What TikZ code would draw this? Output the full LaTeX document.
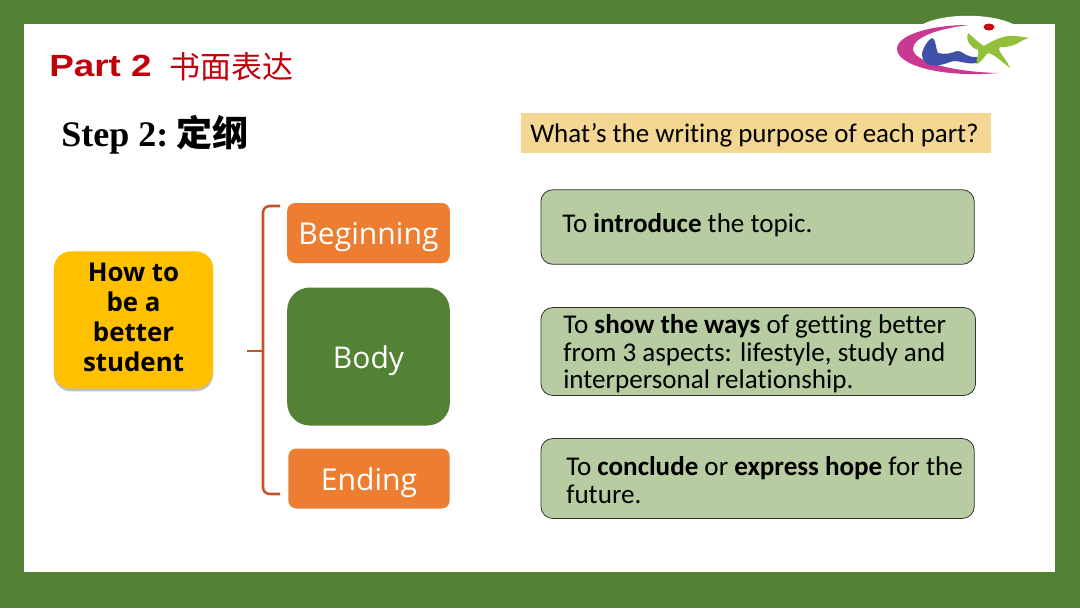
\documentclass[tikz,border=0pt]{standalone}
\usepackage{fontspec}
\setmainfont{Carlito}[RawFeature={-liga}]
\newfontfamily\heading{Liberation Sans}[FakeStretch=1.2]
\newfontfamily\stepfont{Liberation Serif}
\newfontfamily\labelfont{Open Sans}
\newfontfamily\cjk{Noto Sans CJK SC}
\usetikzlibrary{shadows}
\definecolor{frame}{HTML}{548235}
\definecolor{tan}{HTML}{F4D793}
\definecolor{sage}{HTML}{B7CCA1}
\definecolor{orange}{HTML}{ED7D31}
\definecolor{amber}{HTML}{FFC000}
\definecolor{brick}{HTML}{C0000B}
\definecolor{bracket}{HTML}{C5532B}
\definecolor{magenta}{HTML}{C83A92}
\definecolor{navy}{HTML}{3E50A8}
\definecolor{leaf}{HTML}{92C03A}
\newcommand{\partlabel}[1]{\raisebox{-3pt}[\height][\depth]{#1}}
\tikzset{
  partbox/.style={fill=orange,rounded corners=6pt,text=white,font=\labelfont\fontsize{22.6}{26}\selectfont,inner sep=0pt},
  notebox/.style={draw=black!80,fill=sage,rounded corners=9pt,line width=.6pt,anchor=west,inner sep=0pt,minimum width=#1},
  notetext/.style={anchor=west,align=left,font=\fontsize{20.3}{20.5}\selectfont,inner sep=0pt},
}
\begin{document}
\begin{tikzpicture}[x=.75pt,y=-.75pt]
  \useasboundingbox (0,0) rectangle (1080,608);
  \fill[frame] (0,0) rectangle (1080,608);
  \fill[white] (24,24) rectangle (1055,572);
  % logo
  \fill[white] (923,24) .. controls (945,13) and (990,13) .. (1013,24) -- cycle;
  \fill[magenta] (969,25) .. controls (930,25) and (897,35) .. (897,49) .. controls (897,66) and (945,78) .. (998,73) .. controls (955,72) and (913,62) .. (913,49) .. controls (913,38) and (935,29) .. (969,25) -- cycle;
  \fill[navy] (922,53) .. controls (924,46) and (928,40) .. (932,38) .. controls (936,39) and (935,46) .. (938,53) .. controls (945,55) and (952,53) .. (957,51) .. controls (962,50) and (966,58) .. (977,57) -- (977,63) .. controls (965,65) and (958,59) .. (950,62) .. controls (940,66) and (922,70) .. (922,53) -- cycle;
  \fill[leaf] (968,33) .. controls (974,38) and (980,44) .. (984,46) .. controls (993,40) and (1005,35) .. (1013,36) .. controls (1018,36) and (1024,37) .. (1029,38) .. controls (1020,40) and (1015,48) .. (1000,47) .. controls (996,50) and (1006,58) .. (1010,68) .. controls (1002,62) and (994,54) .. (988,53) .. controls (984,56) and (984,60) .. (977,64) .. controls (975,58) and (980,54) .. (978,50) .. controls (972,48) and (965,42) .. (968,33) -- cycle;
  \fill[brick!90!orange] (989,27) ellipse (5.5 and 3.5);
  % headings
  \node[anchor=west,inner sep=0pt,text=brick,font=\heading\bfseries\fontsize{23}{26}\selectfont] (part) at (49,66) {Part 2};
  \node[anchor=west,inner sep=0pt,text=brick,font=\cjk\fontsize{23.2}{26}\selectfont] (title) at (169,67) {书面表达};
  \node[anchor=west,inner sep=0pt,font=\stepfont\bfseries\fontsize{27}{28}\selectfont] (stepline) at (61,135) {Step 2:\hspace{6.5pt}{\cjk\bfseries 定纲}};
  \node[fill=tan,anchor=west,minimum width=352.5pt,minimum height=30pt,inner sep=0pt] (askbox) at (521,132.5) {};
  \node[anchor=west,inner sep=0pt,font=\fontsize{20.2}{22}\selectfont] (ask) at (530,135) {What’s the writing purpose of each part?};
  % left box
  \node[fill=amber,rounded corners=13pt,minimum width=119.5pt,minimum height=103pt,inner sep=0pt,
    drop shadow={shadow xshift=0pt,shadow yshift=-2pt,opacity=.5}] (topic) at (133.5,320) {};
  \node[inner sep=0pt,align=center,font=\labelfont\bfseries\fontsize{19.4}{22.5}\selectfont] (topictext) at (133.5,317.5) {How to\\be a\\better\\student};
  % bracket
  \coordinate (tip) at (247,351);
  \coordinate (top) at (280,206);
  \coordinate (bottom) at (280,494);
  \draw[bracket,line width=1.9pt,rounded corners=5pt] (top) -- (263,206) -- (263,494) -- (bottom);
  \draw[bracket,line width=1.9pt] (tip) -- (263,351);
  % parts
  \node[partbox,minimum width=122pt,minimum height=45pt] (beginning) at (368.5,233) {\partlabel{Beginning}};
  \node[partbox,fill=frame,rounded corners=17pt,minimum width=122pt,minimum height=103.5pt,font=\labelfont\fontsize{22.5}{24}\selectfont] (body) at (368.5,356.5) {\partlabel{Body}};
  \node[partbox,minimum width=121pt,minimum height=45pt] (ending) at (369,478.5) {\partlabel{Ending}};
  % notes
  \node[notebox=325pt,minimum height=56pt] (intro) at (540.5,227) {};
  \node[notetext] (introtext) at (562,225) {To \textbf{introduce} the topic.};
  \node[notebox=326pt,minimum height=66pt] (ways) at (540.5,351.5) {};
  \node[notetext] (waystext) at (563,354) {To \textbf{show the ways} of getting better\\from 3 aspects: lifestyle, study and\\interpersonal relationship.};
  \node[notebox=325pt,minimum height=60pt] (close) at (540.5,478.5) {};
  \node[notetext] (closetext) at (566,480) {To \textbf{conclude} or \textbf{express hope} for the\\future.};
\end{tikzpicture}
\end{document}
